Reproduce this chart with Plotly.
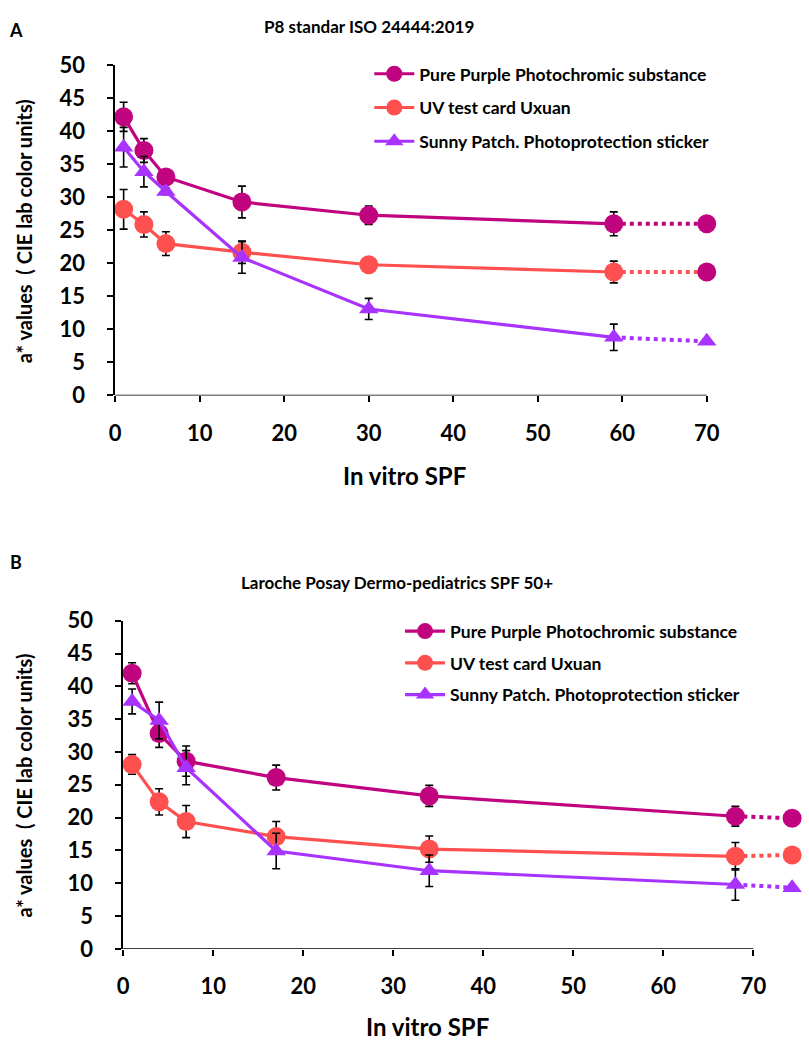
import plotly.graph_objects as go

W, H = 809, 1053

# ---------------- data ----------------
series_names = ["Pure Purple Photochromic substance", "UV test card Uxuan",
                "Sunny Patch. Photoprotection sticker"]

# Panel A: P8 standar ISO 24444:2019
a_spf = [1, 3.4, 6, 15, 30, 59]
a_ext_spf = 70
a_purple = [42.2, 37.1, 33.1, 29.3, 27.3, 26.0]
a_purple_err = [2.2, 1.8, 1.0, 2.4, 1.4, 1.8]
a_purple_ext = 26.0
a_uv = [28.2, 25.9, 23.0, 21.7, 19.8, 18.7]
a_uv_err = [3.0, 1.9, 1.8, 1.7, 0.9, 1.65]
a_uv_ext = 18.7
a_sunny = [37.6, 33.9, 30.9, 20.9, 13.1, 8.8]
a_sunny_err = [3.0, 2.3, 0.5, 2.4, 1.6, 2.0]
a_sunny_ext = 8.2

# Panel B: Laroche Posay Dermo-pediatrics SPF 50+
b_spf = [1, 4, 7, 17, 34, 68]
b_ext_spf = 74.3
b_purple = [42.0, 32.8, 28.6, 26.1, 23.3, 20.2]
b_purple_err = [1.6, 2.1, 2.3, 1.9, 1.6, 1.5]
b_purple_ext = 19.9
b_uv = [28.1, 22.4, 19.4, 17.1, 15.2, 14.1]
b_uv_err = [1.5, 2.0, 2.45, 2.3, 2.0, 2.1]
b_uv_ext = 14.3
b_sunny = [37.7, 34.8, 27.6, 14.9, 11.9, 9.8]
b_sunny_err = [1.9, 2.8, 2.6, 2.7, 2.4, 2.4]
b_sunny_ext = 9.3

x_ticks = [0, 10, 20, 30, 40, 50, 60, 70]
y_ticks = [0, 5, 10, 15, 20, 25, 30, 35, 40, 45, 50]

# ---------------- style ----------------
C_PURPLE = "#C0047F"
C_UV = "#FF5050"
C_SUNNY = "#A833FF"
FONT = "Lato"

fig = go.Figure()


def add_panel(xs, x_ext, series, xa, ya, legend, ext_colors):
    for (name, ys, errs, ext, color, symbol), ecol in zip(series, ext_colors):
        msize = 19 if symbol == "circle" else 17
        fig.add_trace(go.Scatter(
            x=xs, y=ys, name=name, mode="lines+markers",
            line=dict(color=color, width=3.2),
            marker=dict(color=color, size=msize, symbol=symbol),
            error_y=dict(type="data", array=errs, visible=True,
                         color="black", thickness=1.6, width=4),
            xaxis=xa, yaxis=ya, legend=legend, cliponaxis=False))
        fig.add_trace(go.Scatter(
            x=[xs[-1], x_ext], y=[ys[-1], ext], mode="lines",
            line=dict(color=color, width=4, dash="4px,4px"),
            xaxis=xa, yaxis=ya, showlegend=False, cliponaxis=False))
        fig.add_trace(go.Scatter(
            x=[x_ext], y=[ext], mode="markers",
            marker=dict(color=ecol, size=msize, symbol=symbol),
            xaxis=xa, yaxis=ya, showlegend=False, cliponaxis=False))


series_a = [
    (series_names[0], a_purple, a_purple_err, a_purple_ext, C_PURPLE, "circle"),
    (series_names[1], a_uv, a_uv_err, a_uv_ext, C_UV, "circle"),
    (series_names[2], a_sunny, a_sunny_err, a_sunny_ext, C_SUNNY, "triangle-up"),
]
series_b = [
    (series_names[0], b_purple, b_purple_err, b_purple_ext, C_PURPLE, "circle"),
    (series_names[1], b_uv, b_uv_err, b_uv_ext, C_UV, "circle"),
    (series_names[2], b_sunny, b_sunny_err, b_sunny_ext, C_SUNNY, "triangle-up"),
]
add_panel(a_spf, a_ext_spf, series_a, "x", "y", "legend",
          [C_PURPLE, C_PURPLE, C_SUNNY])
add_panel(b_spf, b_ext_spf, series_b, "x2", "y2", "legend2",
          [C_PURPLE, C_UV, C_SUNNY])

# pixel geometry
ax_x0, ax_unit = 110, 8.514      # panel A: px of x=0, px per unit
bx_x0, bx_unit = 118, 9.071      # panel B
a_y0, a_y50 = 391.5, 52.7        # panel A: px of y=0 and y=50
b_y0, b_y50 = 959.4, 622.7
a_xmax, b_xmax = 72, 75.5

tickfont = dict(family=FONT, size=22, color="black", weight="bold")
xcommon = dict(tickvals=x_ticks, ticktext=[str(t) for t in x_ticks],
               ticks="outside", ticklen=6, tickwidth=1.5, tickcolor="black",
               showline=False, showgrid=False, zeroline=False,
               tickfont=tickfont, ticklabelstandoff=12)
ycommon = dict(range=[0, 50], tickvals=y_ticks, ticks="outside", ticklen=6,
               tickwidth=1.5, tickcolor="black", showline=True,
               linecolor="black", linewidth=1.5, showgrid=False,
               zeroline=False, tickfont=tickfont, ticklabelstandoff=18)

LEG_FS = 17.5
fig.update_layout(
    width=W, height=H, margin=dict(l=0, r=0, t=0, b=0),
    paper_bgcolor="white", plot_bgcolor="white",
    xaxis=dict(domain=[ax_x0 / W, (ax_x0 + a_xmax * ax_unit) / W],
               range=[0, a_xmax], anchor="y", **xcommon),
    yaxis=dict(domain=[(H - a_y0) / H, (H - a_y50) / H], anchor="x", **ycommon),
    xaxis2=dict(domain=[bx_x0 / W, (bx_x0 + b_xmax * bx_unit) / W],
                range=[0, b_xmax], anchor="y2", **xcommon),
    yaxis2=dict(domain=[(H - b_y0) / H, (H - b_y50) / H], anchor="x2", **ycommon),
    legend=dict(x=366 / W, y=1 - 43 / H, xanchor="left", yanchor="top",
                font=dict(family=FONT, size=LEG_FS, color="black", weight="bold"),
                tracegroupgap=8, bgcolor="rgba(0,0,0,0)", itemwidth=40),
    legend2=dict(x=397 / W, y=1 - 615 / H, xanchor="left", yanchor="top",
                 font=dict(family=FONT, size=LEG_FS, color="black", weight="bold"),
                 tracegroupgap=6, bgcolor="rgba(0,0,0,0)", itemwidth=40),
    showlegend=True,
)
for i, tr in enumerate(fig.data):
    tr.legendgroup = "g%d" % i

# x axis lines only spanning the tick range
for xr, yr in (("x", "y"), ("x2", "y2")):
    fig.add_shape(type="line", xref=xr, yref=yr, x0=x_ticks[0], x1=x_ticks[-1],
                  y0=0, y1=0, line=dict(color="black", width=1.5), layer="below")

bold = lambda s: dict(family=FONT, size=s, color="black", weight="bold")
ann = [
    dict(text="A", x=10 / W, y=1 - 16 / H, font=bold(18)),
    dict(text="P8 standar ISO 24444:2019", x=366 / W, y=1 - 13 / H, font=bold(17)),
    dict(text="In vitro SPF", x=401 / W, y=1 - 474 / H, font=bold(24)),
    dict(text="a* values  ( CIE lab color units)", x=18 / W, y=1 - 223 / H,
         font=bold(20), textangle=-90),
    dict(text="B", x=10 / W, y=1 - 562 / H, font=bold(18)),
    dict(text="Laroche Posay Dermo-pediatrics SPF 50+", x=394 / W, y=1 - 583 / H,
         font=bold(17)),
    dict(text="In vitro SPF", x=425 / W, y=1 - 1039 / H, font=bold(24)),
    dict(text="a* values  ( CIE lab color units)", x=18 / W, y=1 - 792 / H,
         font=bold(20), textangle=-90),
]
for a in ann:
    fig.add_annotation(xref="paper", yref="paper", showarrow=False,
                       xanchor="center", yanchor="middle", **a)

fig.write_html("out.html", config={"displayModeBar": False},
               post_script="document.body.style.margin='0';"
                           "document.body.style.overflow='hidden';")
